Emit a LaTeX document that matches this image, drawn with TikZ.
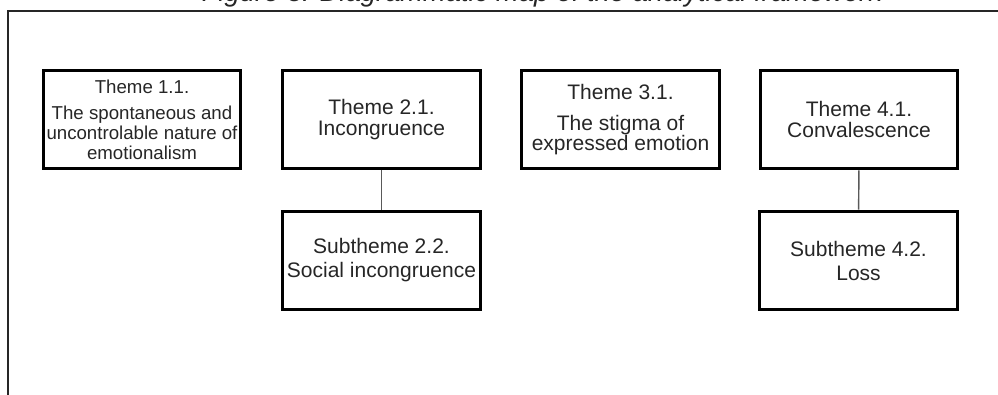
\documentclass[tikz,border=0pt]{standalone}
\usepackage{fontspec}
\setmainfont{Liberation Sans}

\tikzset{
  themebox/.style={draw=black, line width=2.2pt, minimum width=148pt, minimum height=74pt, inner sep=0pt, align=center, text=black!85, font=\fontsize{15.75}{15.75}\selectfont},
  link/.style={draw=black!65, line width=1.1pt}
}

\begin{document}
\begin{tikzpicture}[x=0.75pt, y=-0.75pt]
			\useasboundingbox (0, 0) rectangle (998, 394); %same size as the scanned page
			\draw [black!85, line width=1.5pt] (8, 11) rectangle (1010, 410); %outer frame, cut at right and bottom
			\node [anchor=base, inner sep=0pt, text=black!85, font=\fontsize{20.5}{24}\selectfont\itshape] (caption) at (542, 1.5) {Figure 3. Diagrammatic map of the analytical framework}; %title, mostly cut off
			
			\node [themebox, font=\fontsize{14}{15}\selectfont] (t11) at (142, 119.5) {Theme 1.1.\\[4.5pt] The spontaneous and\\ uncontrolable nature of\\ emotionalism};
			\node [themebox] (t21) at (381.5, 119.5) {Theme 2.1.\\ Incongruence};
			\node [themebox, font=\fontsize{15.75}{15}\selectfont] (t31) at (620.5, 119.5) {Theme 3.1.\\[8pt] The stigma of\\ expressed emotion};
			\node [themebox] (t41) at (859, 119.5) {Theme 4.1.\\ Convalescence};
			
			\node [themebox, font=\fontsize{15.75}{18}\selectfont] (s22) at (381.5, 260.5) {\raisebox{-3pt}{Subtheme 2.2.}\\ \raisebox{-3pt}{Social incongruence}}; %subthemes below their themes
			\node [themebox, font=\fontsize{15.75}{18}\selectfont] (s42) at (858.5, 260.5) {\raisebox{-3pt}{Subtheme 4.2.}\\ \raisebox{-3pt}{Loss}};
			
			\draw [link] (t21) -- (s22);
			\draw [link] (t41) -- (s42);
		\end{tikzpicture}
\end{document}
